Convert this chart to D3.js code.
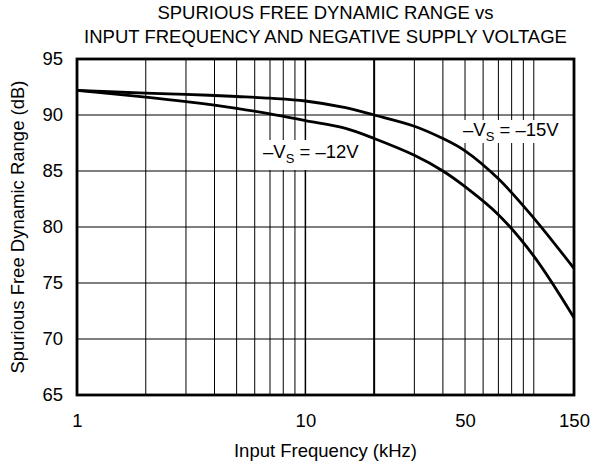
<!DOCTYPE html>
<html><head><meta charset="utf-8">
<script src="https://cdn.jsdelivr.net/npm/d3@7/dist/d3.min.js"></script>
<style>body{margin:0;background:#fff;} text{font-family:"Liberation Sans",Arial,sans-serif;fill:#000;}</style>
</head><body>
<svg id="c" width="603" height="465"></svg>
<script>
const freqs = [1, 2, 3, 5, 7, 10, 15, 20, 30, 40, 50, 70, 100, 150];
const sfdr15 = [92.2, 91.95, 91.85, 91.65, 91.5, 91.25, 90.65, 90.0, 89.0, 87.9, 86.8, 84.3, 80.8, 76.3];
const sfdr12 = [92.2, 91.6, 91.2, 90.6, 90.1, 89.5, 88.8, 87.9, 86.4, 85.0, 83.6, 81.1, 77.4, 71.9];
const xTickLabels = [1, 10, 50, 150];
const yTicks = [65, 70, 75, 80, 85, 90, 95];
const xGrid = [2,3,4,5,6,7,8,9,10,20,30,40,50,60,70,80,90,100];

const svg = d3.select("#c");
const L = 77, R = 574, T = 59, B = 395;
const FS = 18.5;
const x = d3.scaleLog().domain([1,150]).range([L,R]);
const y = d3.scaleLinear().domain([65,95]).range([B,T]);

// grid
svg.append("g").selectAll("line").data(xGrid).join("line")
  .attr("x1", d=>x(d)).attr("x2", d=>x(d)).attr("y1", T).attr("y2", B)
  .attr("stroke","#000").attr("stroke-width", d=> d===20 ? 2 : (d===10 ? 1.5 : 1));
svg.append("g").selectAll("line").data(yTicks.slice(1,-1)).join("line")
  .attr("x1", L).attr("x2", R).attr("y1", d=>y(d)).attr("y2", d=>y(d))
  .attr("stroke","#000").attr("stroke-width",1);

// curves
const line = d3.line().x((d,i)=>x(freqs[i])).y(d=>y(d)).curve(d3.curveCatmullRom.alpha(0.5));
[sfdr15, sfdr12].forEach(s=>{
  svg.append("path").attr("d", line(s)).attr("fill","none").attr("stroke","#000").attr("stroke-width",2.8);
});

// curve labels
function vlabel(cx, cy, v, bx, by, bw, bh){
  const g = svg.append("g");
  g.append("rect").attr("x", bx).attr("y", by).attr("width", bw).attr("height", bh).attr("fill","#fff");
  const t = g.append("text").attr("x", cx).attr("y", cy).attr("font-size",FS);
  t.append("tspan").text("\u2013V");
  t.append("tspan").attr("font-size",13).attr("dy",5).text("S");
  t.append("tspan").attr("dy",-5).text(" = \u2013" + v + "V");
}
vlabel(263, 158, 12, 257, 140, 108, 30);
vlabel(463, 136, 15, 457, 120, 117, 23);

// border
svg.append("rect").attr("x",L).attr("y",T).attr("width",R-L).attr("height",B-T)
  .attr("fill","none").attr("stroke","#000").attr("stroke-width",2.8);

// axes labels
const yAxis = d3.axisLeft(y).tickValues(yTicks).tickSize(0).tickPadding(14);
svg.append("g").attr("transform",`translate(${L},0)`).call(yAxis)
  .call(g=>g.select(".domain").remove())
  .selectAll("text").attr("font-size",FS).attr("font-family","Liberation Sans, Arial, sans-serif").attr("fill","#000");
const xAxis = d3.axisBottom(x).tickValues(xTickLabels).tickFormat(d3.format("d")).tickSize(0).tickPadding(19);
svg.append("g").attr("transform",`translate(0,${B})`).call(xAxis)
  .call(g=>g.select(".domain").remove())
  .selectAll("text").attr("font-size",FS).attr("font-family","Liberation Sans, Arial, sans-serif").attr("fill","#000");

// titles
const cx = (L+R)/2;
svg.append("text").attr("x",cx).attr("y",19).attr("text-anchor","middle").attr("font-size",FS)
  .text("SPURIOUS FREE DYNAMIC RANGE vs");
svg.append("text").attr("x",cx).attr("y",43).attr("text-anchor","middle").attr("font-size",FS)
  .text("INPUT FREQUENCY AND NEGATIVE SUPPLY VOLTAGE");
svg.append("text").attr("x",cx).attr("y",457).attr("text-anchor","middle").attr("font-size",FS)
  .text("Input Frequency (kHz)");
svg.append("text").attr("transform",`translate(24,${(T+B)/2}) rotate(-90)`).attr("text-anchor","middle").attr("font-size",FS)
  .text("Spurious Free Dynamic Range (dB)");
</script>
</body></html>
